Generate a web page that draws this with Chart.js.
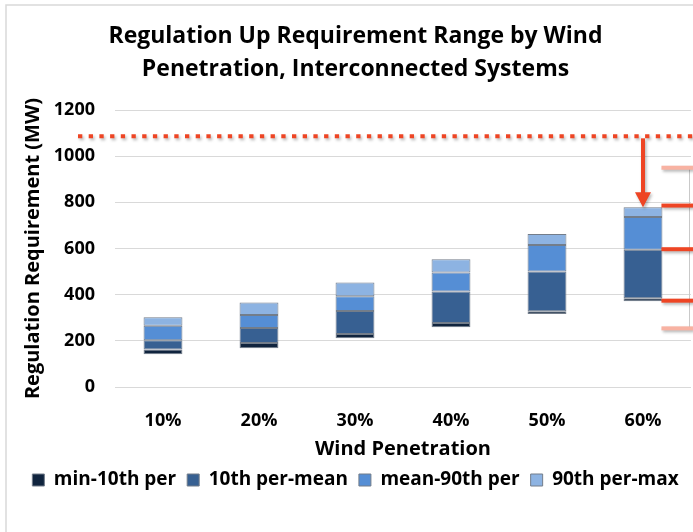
<!DOCTYPE html>
<html>
<head>
<meta charset="utf-8">
<title>Regulation Up Requirement Range by Wind Penetration</title>
<script src="https://cdn.jsdelivr.net/npm/chart.js@4.4.1/dist/chart.umd.min.js"></script>
<style>
  html, body { margin: 0; padding: 0; background: #ffffff; }
  #wrap { width: 693px; height: 532px; position: relative; }
</style>
</head>
<body>
<div id="wrap"><canvas id="chart" width="693" height="532"></canvas></div>
<script>
// Wind penetration levels
const categories = ['10%', '20%', '30%', '40%', '50%', '60%'];

// Regulation up requirement statistics (MW) per penetration level
const minVal  = [142, 168, 211, 259, 316, 371];
const p10Val  = [162, 191, 230, 277, 328, 384];
const meanVal = [202, 256, 329, 414, 500, 595];
const p90Val  = [265, 312, 393, 496, 615, 736];
const maxVal  = [302, 366, 453, 553, 663, 779];

// Y axis ticks
const yTicks = [0, 200, 400, 600, 800, 1000, 1200];

// Reference levels marked on the right-hand side (MW)
const limitLevel = 1086;          // dotted limit line
const bracketSolid = [786, 597, 374];
const bracketPale = [950, 254];

const seriesNames = ['min-10th per', '10th per-mean', 'mean-90th per', '90th per-max'];
const seriesColors = ['#10243e', '#376092', '#558ed5', '#8db3e2'];

const bounds = [minVal, p10Val, meanVal, p90Val, maxVal];
const datasets = seriesNames.map((name, s) => ({
  label: name,
  data: categories.map((_, i) => [bounds[s][i], bounds[s + 1][i]]),
  backgroundColor: seriesColors[s],
  borderColor: '#737d8a',
  borderWidth: 1,
  borderSkipped: false,
  barPercentage: 0.405,
  categoryPercentage: 1.0
}));

const FONT = '"Open Sans"';
const RED = '#ee4524';
const PALE_RED = '#f8b2a2';

const framePlugin = {
  id: 'frame',
  beforeDraw(chart) {
    const ctx = chart.ctx;
    ctx.save();
    ctx.fillStyle = '#ffffff';
    ctx.fillRect(0, 0, chart.width, chart.height);
    ctx.strokeStyle = '#d9d9d9';
    ctx.lineWidth = 1.5;
    ctx.beginPath();
    ctx.moveTo(6, chart.height);
    ctx.lineTo(6, 5);
    ctx.lineTo(chart.width, 5);
    ctx.stroke();
    ctx.restore();
  }
};

const markupPlugin = {
  id: 'markup',
  afterDatasetsDraw(chart) {
    const ctx = chart.ctx;
    const y = chart.scales.y;
    const x = chart.scales.x;
    const area = chart.chartArea;
    const last = categories.length - 1;
    const bar = chart.getDatasetMeta(0).data[last];
    const barRight = bar.x + bar.width / 2;
    const cx = x.getPixelForValue(last);
    const yLimit = y.getPixelForValue(limitLevel);

    ctx.save();
    // soft drop shadow shared by the markup
    ctx.shadowColor = 'rgba(0,0,0,0.28)';
    ctx.shadowBlur = 3;
    ctx.shadowOffsetX = 1.5;
    ctx.shadowOffsetY = 2;

    // dotted limit line
    ctx.strokeStyle = RED;
    ctx.lineWidth = 4;
    ctx.setLineDash([4.3, 6.4]);
    ctx.beginPath();
    ctx.moveTo(area.left - 37, yLimit);
    ctx.lineTo(chart.width, yLimit);
    ctx.stroke();
    ctx.setLineDash([]);

    // arrow from the limit down to the top of the last bar
    const tipY = y.getPixelForValue(maxVal[last]);
    ctx.lineWidth = 4;
    ctx.beginPath();
    ctx.moveTo(cx, yLimit + 2);
    ctx.lineTo(cx, tipY - 12);
    ctx.stroke();
    ctx.fillStyle = RED;
    ctx.beginPath();
    ctx.moveTo(cx - 8, tipY - 15);
    ctx.lineTo(cx + 8, tipY - 15);
    ctx.lineTo(cx, tipY);
    ctx.closePath();
    ctx.fill();

    // bracket spine
    ctx.shadowColor = 'transparent';
    ctx.strokeStyle = '#c9c9c9';
    ctx.lineWidth = 1;
    ctx.beginPath();
    ctx.moveTo(chart.width - 3.5, y.getPixelForValue(bracketPale[0]));
    ctx.lineTo(chart.width - 3.5, y.getPixelForValue(bracketPale[1]));
    ctx.stroke();

    ctx.shadowColor = 'rgba(0,0,0,0.28)';
    // pale outer ticks
    ctx.strokeStyle = PALE_RED;
    ctx.lineWidth = 4;
    bracketPale.forEach(v => {
      const py = y.getPixelForValue(v);
      ctx.beginPath();
      ctx.moveTo(barRight - 1, py);
      ctx.lineTo(chart.width, py);
      ctx.stroke();
    });
    // solid inner ticks
    ctx.strokeStyle = RED;
    bracketSolid.forEach(v => {
      const py = y.getPixelForValue(v);
      ctx.beginPath();
      ctx.moveTo(barRight - 1, py);
      ctx.lineTo(chart.width, py);
      ctx.stroke();
    });
    ctx.restore();
  }
};

new Chart(document.getElementById('chart'), {
  type: 'bar',
  data: { labels: categories, datasets },
  plugins: [framePlugin, markupPlugin],
  options: {
    responsive: false,
    animation: false,
    layout: { padding: { left: 20, right: 2, top: 0, bottom: 32.5 } },
    plugins: {
      title: {
        display: true,
        text: ['Regulation Up Requirement Range by Wind', 'Penetration, Interconnected Systems'],
        color: '#000000',
        font: { family: FONT, size: 23, weight: 'bold', lineHeight: 1.435 },
        padding: { top: 20, bottom: 24 }
      },
      legend: {
        position: 'bottom',
        labels: {
          color: '#000000',
          font: { family: FONT, size: 19, weight: 'bold' },
          boxWidth: 12,
          boxHeight: 12,
          padding: 11,
          generateLabels(chart) {
            return chart.data.datasets.map((ds, i) => ({
              text: ds.label,
              fillStyle: ds.backgroundColor,
              strokeStyle: '#737d8a',
              lineWidth: 1,
              hidden: false,
              datasetIndex: i
            }));
          }
        }
      },
      tooltip: { enabled: false }
    },
    scales: {
      x: {
        stacked: true,
        afterFit(scale) { scale.height = 72.5; },
        grid: { display: false },
        border: { display: false },
        ticks: { color: '#000000', font: { family: FONT, size: 18, weight: 'bold' }, padding: 15 },
        title: {
          display: true,
          text: 'Wind Penetration',
          color: '#000000',
          font: { family: FONT, size: 20, weight: 'bold', lineHeight: 1.0 },
          padding: { top: 0, bottom: 0 }
        }
      },
      y: {
        min: 0,
        max: 1200,
        afterBuildTicks(scale) { scale.ticks = yTicks.map(v => ({ value: v })); },
        afterFit(scale) { scale.width = 95; },
        grid: { color: '#d9d9d9', lineWidth: 1, drawTicks: false },
        border: { display: false },
        ticks: {
          color: '#000000',
          font: { family: FONT, size: 18, weight: 'bold' },
          padding: 20,
          callback: v => String(v)
        },
        title: {
          display: true,
          text: 'Regulation Requirement (MW)',
          color: '#000000',
          font: { family: FONT, size: 20, weight: 'bold', lineHeight: 1.1 },
          padding: { top: 2, bottom: 0 }
        }
      }
    }
  }
});
</script>
</body>
</html>
